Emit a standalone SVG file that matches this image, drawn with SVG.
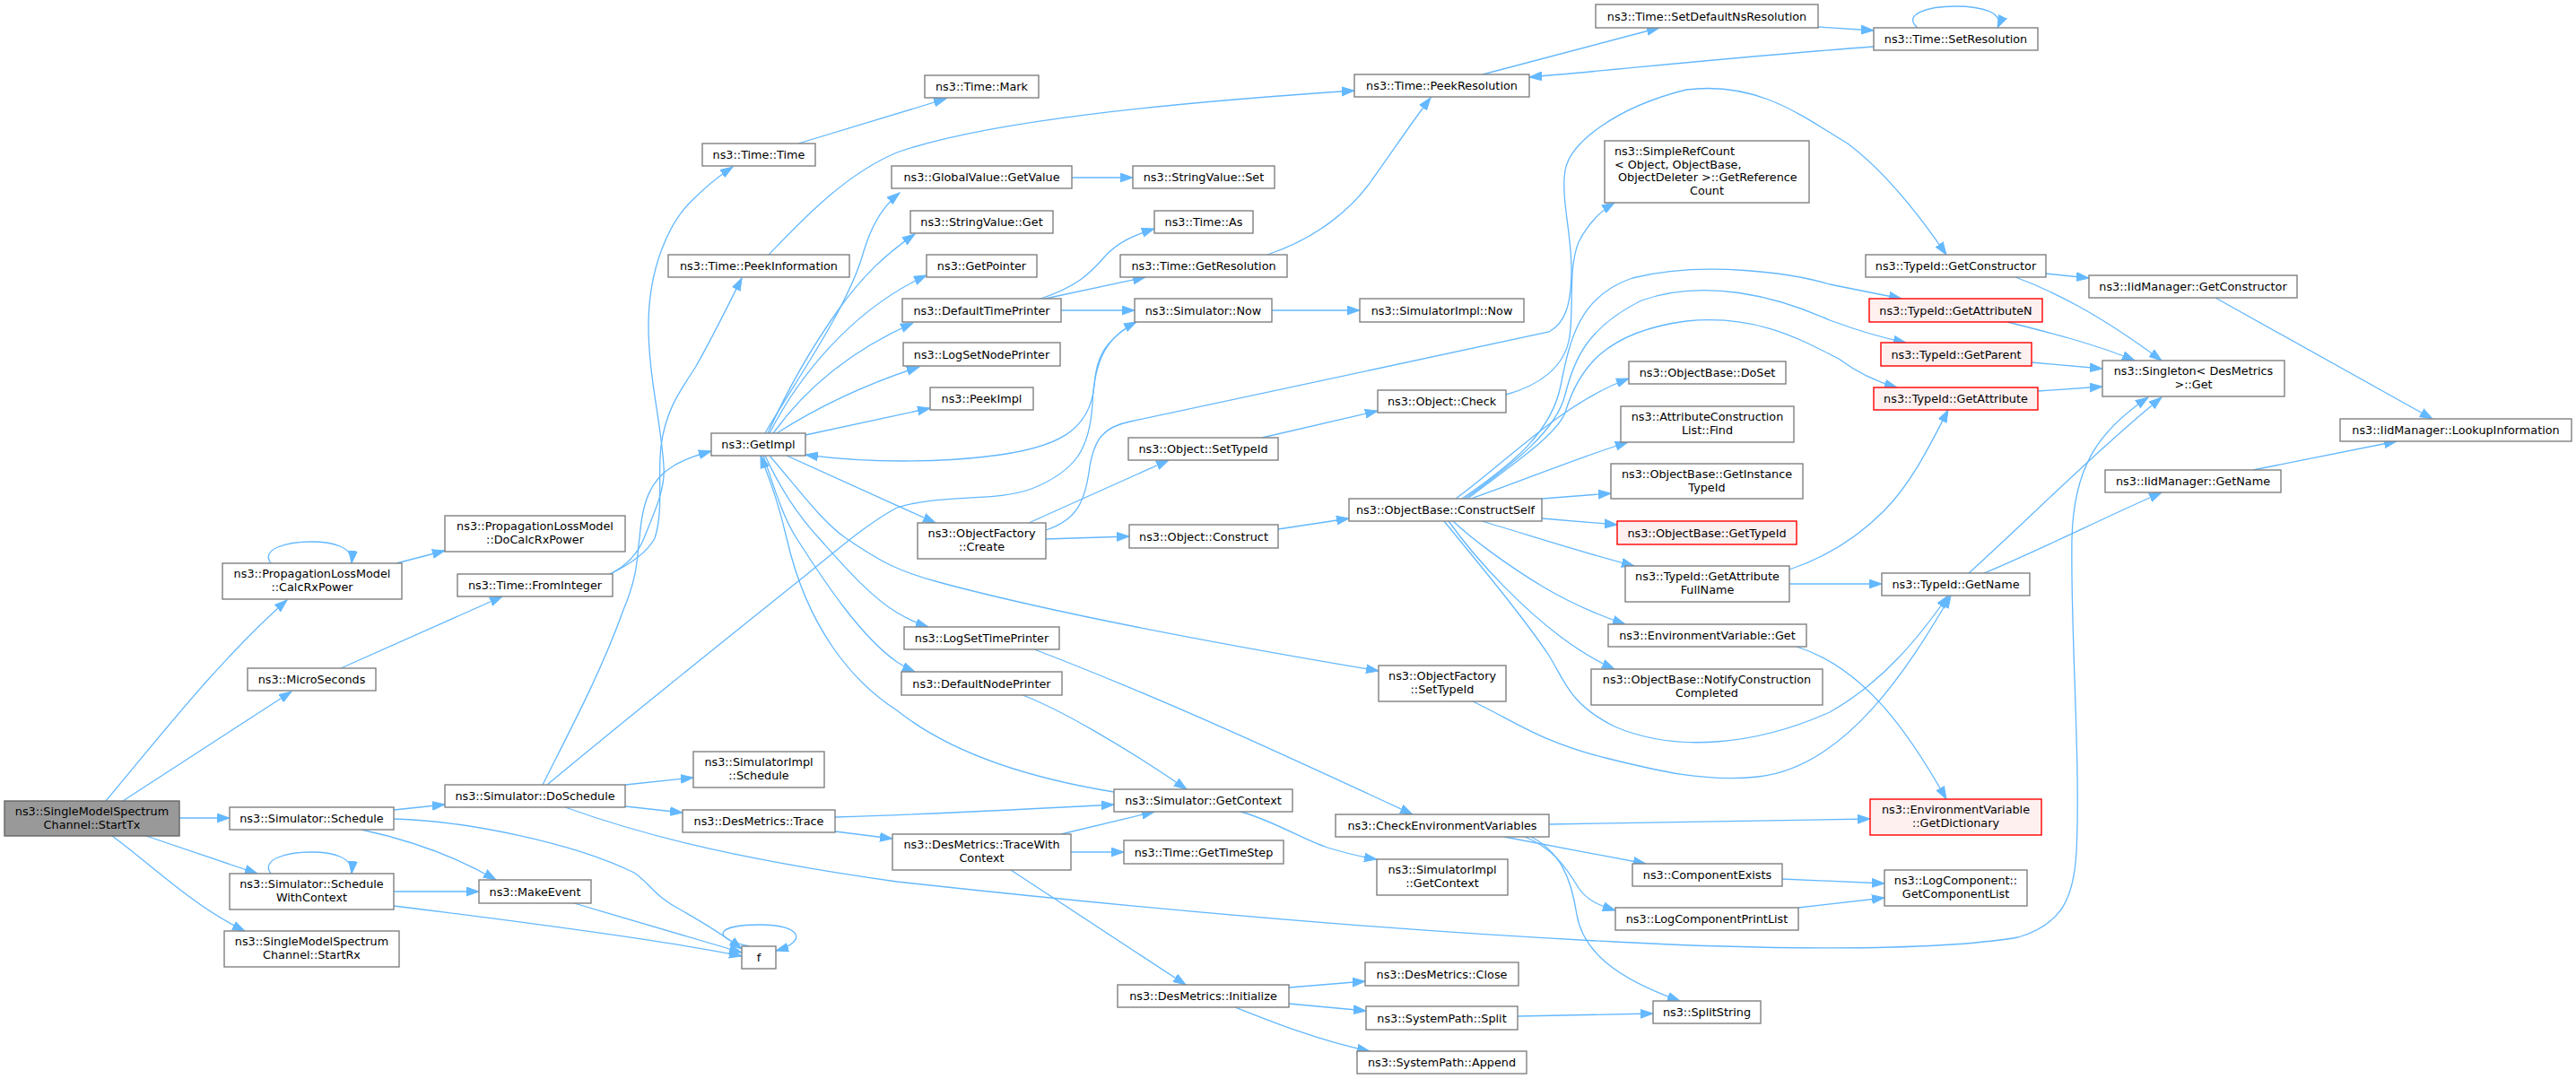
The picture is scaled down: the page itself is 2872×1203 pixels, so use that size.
<svg xmlns="http://www.w3.org/2000/svg" width="2872" height="1203" viewBox="0 0 2872 1203">
<style>
.n rect{fill:#ffffff;stroke:#808080;stroke-width:1.4}
.r rect{fill:#fff0f0;stroke:#ff0000;stroke-width:1.4}
.root rect{fill:#999999;stroke:#666666;stroke-width:1.4}
text{font-family:"DejaVu Sans","Liberation Sans",sans-serif;font-size:12.8px;fill:#000000;text-anchor:middle}
text.l{text-anchor:start}
#edges path{fill:none;stroke:#63b8ff;stroke-width:1.3;marker-end:url(#arr)}
</style>
<defs>
<marker id="arr" markerUnits="userSpaceOnUse" markerWidth="16" markerHeight="12" refX="14" refY="5.5" orient="auto">
<path d="M0,0.6 L14,5.5 L0,10.4 z" fill="#63b8ff" stroke="#63b8ff" stroke-width="1"/>
</marker>
</defs>
<rect x="0" y="0" width="2872" height="1203" fill="#ffffff"/>
<g id="edges">
<path d="M118,893 C175,825 245,735 320,669"/>
<path d="M137,893 L325,771"/>
<path d="M200,912 L256,912"/>
<path d="M163,932 L287,974"/>
<path d="M125,932 C170,965 215,1010 273,1038"/>
<path d="M302,628 C290,612 320,604 347,604 C372,604 394,610 392,628"/>
<path d="M442,628 L496,614"/>
<path d="M380,745 L560,665"/>
<path d="M439,903 L496,897"/>
<path d="M439,913 C520,915 640,940 707,973 C725,985 730,1000 760,1015 C790,1032 810,1045 827,1058"/>
<path d="M403,925 C440,933 500,950 553,981"/>
<path d="M302,974 C290,958 320,950 347,950 C372,950 394,956 392,974"/>
<path d="M439,994 L534,994"/>
<path d="M439,1010 C600,1030 750,1050 827,1066"/>
<path d="M640,1007 L827,1062"/>
<path d="M835,1055 C790,1045 800,1031 847,1031 C895,1031 900,1050 865,1060"/>
<path d="M680,640 C700,630 712,615 718,600 C730,570 742,545 740,520 C737,470 723,420 723,363 C723,300 745,250 770,225 C785,210 800,197 817,186"/>
<path d="M680,640 C705,628 722,615 730,600 C740,570 733,530 737,497 C742,460 755,440 775,410 C795,375 812,340 827,310"/>
<path d="M605,875 C635,815 670,750 695,680 C712,640 710,620 713,600 C716,560 725,535 750,520 C760,513 775,508 793,503"/>
<path d="M610,875 C700,800 800,720 900,640 C935,612 965,585 1000,566 C1050,550 1110,560 1150,545 C1200,525 1215,500 1218,450 C1220,400 1235,375 1267,359"/>
<path d="M1267,359 C1230,380 1222,400 1220,430 C1215,480 1180,500 1100,509 C1050,515 970,517 898,507"/>
<path d="M697,875 L773,867"/>
<path d="M697,899 L761,906"/>
<path d="M630,900 C700,925 800,955 1000,983 C1200,1005 1500,1035 1800,1050 C1950,1058 2150,1062 2250,1045 C2300,1030 2312,1000 2315,950 C2320,850 2308,700 2310,600 C2312,520 2340,480 2395,443"/>
<path d="M931,911 C1030,908 1150,902 1242,897"/>
<path d="M931,927 L995,935"/>
<path d="M1183,930 L1287,905"/>
<path d="M1194,950 L1253,950"/>
<path d="M1127,970 L1322,1098"/>
<path d="M1242,883 C1150,868 1060,840 1000,792 C950,760 900,700 877,600 C868,560 858,535 848,508"/>
<path d="M1383,905 C1420,915 1450,935 1480,945 C1500,951 1515,955 1535,958"/>
<path d="M853,483 C890,420 940,350 960,290 C968,262 978,235 1003,215"/>
<path d="M856,483 C880,430 910,380 935,345 C960,310 985,285 1020,261"/>
<path d="M858,483 C890,420 950,345 1033,307"/>
<path d="M862,483 C900,430 950,390 1018,360"/>
<path d="M866,483 C910,455 960,430 1025,409"/>
<path d="M898,485 L1037,455"/>
<path d="M877,508 L1043,583"/>
<path d="M858,508 C890,545 915,580 943,600 C980,625 1000,637 1050,650 C1200,690 1400,725 1537,748"/>
<path d="M853,508 C870,545 890,575 913,600 C940,630 970,665 1000,683 C1012,690 1022,695 1035,699"/>
<path d="M851,508 C862,540 872,575 888,600 C920,650 960,710 1000,738 C1008,743 1013,746 1020,749"/>
<path d="M890,160 L1055,110"/>
<path d="M857,284 C890,250 940,195 1000,170 C1100,135 1300,115 1510,101"/>
<path d="M1195,198 L1263,198"/>
<path d="M1160,333 C1200,320 1215,305 1230,288 C1245,270 1265,262 1287,255"/>
<path d="M1165,333 L1277,309"/>
<path d="M1183,346 L1265,346"/>
<path d="M1418,346 L1516,346"/>
<path d="M1413,284 C1470,265 1510,230 1530,200 C1555,165 1575,135 1595,109"/>
<path d="M1653,83 L1850,31"/>
<path d="M2027,30 L2089,34"/>
<path d="M2089,52 C1950,62 1800,78 1705,86"/>
<path d="M2138,31 C2120,16 2150,7 2180,7 C2210,7 2235,14 2227,31"/>
<path d="M1147,583 L1303,513"/>
<path d="M1166,601 L1259,598"/>
<path d="M1166,591 C1200,580 1210,560 1215,520 C1220,490 1230,476 1260,470 L1727,370 C1745,360 1752,340 1752,300 C1752,260 1740,220 1745,190 C1750,160 1800,120 1880,100 C1960,90 2010,130 2060,160 C2100,190 2140,240 2170,284"/>
<path d="M1407,488 L1536,458"/>
<path d="M1425,590 L1504,578"/>
<path d="M1679,440 C1715,430 1745,410 1750,375 C1755,340 1748,300 1760,270 C1770,250 1785,235 1800,226"/>
<path d="M1623,556 C1680,515 1740,450 1816,422"/>
<path d="M1640,556 C1700,535 1760,510 1815,493"/>
<path d="M1719,556 L1796,550"/>
<path d="M1719,578 L1803,585"/>
<path d="M1630,556 C1690,515 1730,480 1740,430 C1750,380 1760,330 1820,310 C1900,290 2000,305 2040,317 C2070,323 2095,328 2120,333"/>
<path d="M1633,556 C1690,515 1735,480 1745,440 C1755,400 1770,365 1830,335 C1900,310 1980,330 2040,357 C2075,370 2100,377 2125,382"/>
<path d="M1636,556 C1690,515 1735,485 1745,460 C1760,410 1790,370 1880,358 C1960,350 2010,380 2050,400 C2070,415 2090,425 2115,432"/>
<path d="M1652,581 C1700,595 1760,615 1822,631"/>
<path d="M1620,581 C1640,600 1680,630 1720,654 C1750,672 1780,685 1812,696"/>
<path d="M1615,581 C1650,630 1700,680 1740,710 C1760,725 1780,737 1800,746"/>
<path d="M1610,581 C1650,630 1700,690 1727,731 C1745,760 1750,785 1800,810 C1870,840 1960,830 2040,794 C2100,760 2140,710 2172,664"/>
<path d="M1642,782 C1690,805 1720,828 1790,845 C1850,860 1900,872 1960,866 C2060,855 2130,740 2175,664"/>
<path d="M1995,635 C2040,620 2075,595 2100,570 C2130,540 2150,500 2172,457"/>
<path d="M1995,651 L2098,651"/>
<path d="M2003,721 C2080,745 2130,820 2170,891"/>
<path d="M1727,919 L2085,913"/>
<path d="M1677,933 L1835,963"/>
<path d="M1700,933 C1730,945 1745,965 1760,990 C1770,1005 1785,1010 1801,1015"/>
<path d="M1707,933 C1740,950 1752,980 1758,1020 C1765,1060 1800,1090 1873,1116"/>
<path d="M1987,980 L2101,985"/>
<path d="M2005,1012 L2101,1001"/>
<path d="M1437,1101 L1522,1094"/>
<path d="M1437,1119 L1523,1127"/>
<path d="M1377,1123 C1420,1140 1470,1160 1527,1172"/>
<path d="M1692,1133 L1843,1130"/>
<path d="M2281,305 L2329,310"/>
<path d="M2247,309 C2290,325 2340,350 2410,402"/>
<path d="M2238,359 C2290,372 2340,385 2380,402"/>
<path d="M2265,404 L2344,411"/>
<path d="M2272,436 L2344,431"/>
<path d="M2195,639 C2260,580 2340,500 2410,443"/>
<path d="M2212,639 C2270,615 2340,580 2410,549"/>
<path d="M2470,332 L2712,467"/>
<path d="M2512,524 L2672,492"/>
<path d="M1140,775 C1180,790 1250,830 1323,880"/>
<path d="M1153,724 C1300,780 1450,850 1575,908"/>
</g>
<g id="n_starttx" class="root"><rect x="5" y="893" width="195" height="39"/><text x="102.5" y="909">ns3::SingleModelSpectrum</text><text x="102.5" y="924">Channel::StartTx</text></g>
<g id="n_calcrx" class="n"><rect x="248" y="628" width="200" height="40"/><text x="348" y="644">ns3::PropagationLossModel</text><text x="348" y="659">::CalcRxPower</text></g>
<g id="n_micro" class="n"><rect x="276" y="745" width="143" height="25"/><text x="347.5" y="762">ns3::MicroSeconds</text></g>
<g id="n_sched" class="n"><rect x="256" y="900" width="183" height="25"/><text x="347.5" y="917">ns3::Simulator::Schedule</text></g>
<g id="n_swc" class="n"><rect x="256" y="974" width="183" height="40"/><text x="347.5" y="990">ns3::Simulator::Schedule</text><text x="347.5" y="1005">WithContext</text></g>
<g id="n_startrx" class="n"><rect x="250" y="1038" width="195" height="40"/><text x="347.5" y="1054">ns3::SingleModelSpectrum</text><text x="347.5" y="1069">Channel::StartRx</text></g>
<g id="n_docalc" class="n"><rect x="496" y="575" width="201" height="40"/><text x="596.5" y="591">ns3::PropagationLossModel</text><text x="596.5" y="606">::DoCalcRxPower</text></g>
<g id="n_fromint" class="n"><rect x="510" y="640" width="173" height="25"/><text x="596.5" y="657">ns3::Time::FromInteger</text></g>
<g id="n_dosched" class="n"><rect x="496" y="875" width="201" height="25"/><text x="596.5" y="892">ns3::Simulator::DoSchedule</text></g>
<g id="n_makeevent" class="n"><rect x="534" y="981" width="125" height="26"/><text x="596.5" y="998.5">ns3::MakeEvent</text></g>
<g id="n_f" class="n"><rect x="827" y="1055" width="38" height="25"/><text x="846" y="1072">f</text></g>
<g id="n_timetime" class="n"><rect x="783" y="160" width="126" height="25"/><text x="846" y="177">ns3::Time::Time</text></g>
<g id="n_peekinfo" class="n"><rect x="745" y="284" width="202" height="25"/><text x="846" y="301">ns3::Time::PeekInformation</text></g>
<g id="n_getimpl" class="n"><rect x="793" y="483" width="105" height="25"/><text x="845.5" y="500">ns3::GetImpl</text></g>
<g id="n_simimplsched" class="n"><rect x="773" y="838" width="146" height="40"/><text x="846" y="854">ns3::SimulatorImpl</text><text x="846" y="869">::Schedule</text></g>
<g id="n_trace" class="n"><rect x="761" y="903" width="170" height="25"/><text x="846" y="920">ns3::DesMetrics::Trace</text></g>
<g id="n_mark" class="n"><rect x="1031" y="84" width="127" height="25"/><text x="1094.5" y="101">ns3::Time::Mark</text></g>
<g id="n_getvalue" class="n"><rect x="994" y="185" width="201" height="25"/><text x="1094.5" y="202">ns3::GlobalValue::GetValue</text></g>
<g id="n_svget" class="n"><rect x="1015" y="235" width="159" height="25"/><text x="1094.5" y="252">ns3::StringValue::Get</text></g>
<g id="n_getpointer" class="n"><rect x="1033" y="284" width="123" height="25"/><text x="1094.5" y="301">ns3::GetPointer</text></g>
<g id="n_dtp" class="n"><rect x="1006" y="333" width="177" height="26"/><text x="1094.5" y="350.5">ns3::DefaultTimePrinter</text></g>
<g id="n_lsnp" class="n"><rect x="1007" y="382" width="175" height="26"/><text x="1094.5" y="399.5">ns3::LogSetNodePrinter</text></g>
<g id="n_peekimpl" class="n"><rect x="1037" y="432" width="115" height="25"/><text x="1094.5" y="449">ns3::PeekImpl</text></g>
<g id="n_ofcreate" class="n"><rect x="1023" y="583" width="143" height="40"/><text x="1094.5" y="599">ns3::ObjectFactory</text><text x="1094.5" y="614">::Create</text></g>
<g id="n_lstp" class="n"><rect x="1008" y="699" width="173" height="25"/><text x="1094.5" y="716">ns3::LogSetTimePrinter</text></g>
<g id="n_dnp" class="n"><rect x="1005" y="749" width="179" height="26"/><text x="1094.5" y="766.5">ns3::DefaultNodePrinter</text></g>
<g id="n_twc" class="n"><rect x="995" y="930" width="199" height="40"/><text x="1094.5" y="946">ns3::DesMetrics::TraceWith</text><text x="1094.5" y="961">Context</text></g>
<g id="n_init" class="n"><rect x="1246" y="1098" width="191" height="25"/><text x="1341.5" y="1115">ns3::DesMetrics::Initialize</text></g>
<g id="n_svset" class="n"><rect x="1263" y="185" width="158" height="25"/><text x="1342" y="202">ns3::StringValue::Set</text></g>
<g id="n_as" class="n"><rect x="1287" y="235" width="110" height="25"/><text x="1342" y="252">ns3::Time::As</text></g>
<g id="n_getres" class="n"><rect x="1249" y="284" width="186" height="25"/><text x="1342" y="301">ns3::Time::GetResolution</text></g>
<g id="n_now" class="n"><rect x="1265" y="333" width="153" height="26"/><text x="1341.5" y="350.5">ns3::Simulator::Now</text></g>
<g id="n_objsettid" class="n"><rect x="1258" y="488" width="167" height="25"/><text x="1341.5" y="505">ns3::Object::SetTypeId</text></g>
<g id="n_construct" class="n"><rect x="1259" y="585" width="166" height="26"/><text x="1342" y="602.5">ns3::Object::Construct</text></g>
<g id="n_getctx" class="n"><rect x="1242" y="880" width="199" height="25"/><text x="1341.5" y="897">ns3::Simulator::GetContext</text></g>
<g id="n_timestep" class="n"><rect x="1253" y="937" width="178" height="26"/><text x="1342" y="954.5">ns3::Time::GetTimeStep</text></g>
<g id="n_peekres" class="n"><rect x="1510" y="83" width="195" height="25"/><text x="1607.5" y="100">ns3::Time::PeekResolution</text></g>
<g id="n_simimplnow" class="n"><rect x="1516" y="333" width="183" height="26"/><text x="1607.5" y="350.5">ns3::SimulatorImpl::Now</text></g>
<g id="n_check" class="n"><rect x="1536" y="435" width="143" height="25"/><text x="1607.5" y="452">ns3::Object::Check</text></g>
<g id="n_constructself" class="n"><rect x="1504" y="556" width="215" height="25"/><text x="1611.5" y="573">ns3::ObjectBase::ConstructSelf</text></g>
<g id="n_ofsettid" class="n"><rect x="1537" y="742" width="142" height="40"/><text x="1608" y="758">ns3::ObjectFactory</text><text x="1608" y="773">::SetTypeId</text></g>
<g id="n_checkenv" class="n"><rect x="1489" y="908" width="238" height="25"/><text x="1608" y="925">ns3::CheckEnvironmentVariables</text></g>
<g id="n_simimplctx" class="n"><rect x="1535" y="958" width="146" height="40"/><text x="1608" y="974">ns3::SimulatorImpl</text><text x="1608" y="989">::GetContext</text></g>
<g id="n_close" class="n"><rect x="1522" y="1073" width="171" height="26"/><text x="1607.5" y="1090.5">ns3::DesMetrics::Close</text></g>
<g id="n_split" class="n"><rect x="1523" y="1122" width="169" height="26"/><text x="1607.5" y="1139.5">ns3::SystemPath::Split</text></g>
<g id="n_append" class="n"><rect x="1513" y="1172" width="189" height="25"/><text x="1607.5" y="1189">ns3::SystemPath::Append</text></g>
<g id="n_setdefns" class="n"><rect x="1779" y="5" width="248" height="26"/><text x="1903" y="22.5">ns3::Time::SetDefaultNsResolution</text></g>
<g id="n_simpleref" class="n"><rect x="1789" y="157" width="228" height="69"/><text class="l" x="1800" y="172.5">ns3::SimpleRefCount</text><text class="l" x="1800" y="187.5">&lt; Object, ObjectBase,</text><text class="l" x="1804" y="202">ObjectDeleter &gt;::GetReference</text><text x="1903" y="216.5">Count</text></g>
<g id="n_doset" class="n"><rect x="1816" y="403" width="175" height="25"/><text x="1903.5" y="420">ns3::ObjectBase::DoSet</text></g>
<g id="n_acfind" class="n"><rect x="1807" y="453" width="193" height="40"/><text x="1903.5" y="469">ns3::AttributeConstruction</text><text x="1903.5" y="484">List::Find</text></g>
<g id="n_getinsttid" class="n"><rect x="1796" y="517" width="214" height="39"/><text x="1903" y="533">ns3::ObjectBase::GetInstance</text><text x="1903" y="548">TypeId</text></g>
<g id="n_gettypeid" class="r"><rect x="1803" y="581" width="200" height="26"/><text x="1903" y="598.5">ns3::ObjectBase::GetTypeId</text></g>
<g id="n_getattrfull" class="n"><rect x="1812" y="631" width="183" height="40"/><text x="1903.5" y="647">ns3::TypeId::GetAttribute</text><text x="1903.5" y="662">FullName</text></g>
<g id="n_envget" class="n"><rect x="1793" y="696" width="221" height="25"/><text x="1903.5" y="713">ns3::EnvironmentVariable::Get</text></g>
<g id="n_notify" class="n"><rect x="1774" y="746" width="258" height="40"/><text x="1903" y="762">ns3::ObjectBase::NotifyConstruction</text><text x="1903" y="777">Completed</text></g>
<g id="n_compexists" class="n"><rect x="1820" y="963" width="167" height="25"/><text x="1903.5" y="980">ns3::ComponentExists</text></g>
<g id="n_lcpl" class="n"><rect x="1801" y="1012" width="204" height="25"/><text x="1903" y="1029">ns3::LogComponentPrintList</text></g>
<g id="n_splitstring" class="n"><rect x="1843" y="1116" width="120" height="25"/><text x="1903" y="1133">ns3::SplitString</text></g>
<g id="n_setres" class="n"><rect x="2089" y="31" width="183" height="25"/><text x="2180.5" y="48">ns3::Time::SetResolution</text></g>
<g id="n_getctor" class="n"><rect x="2080" y="284" width="201" height="25"/><text x="2180.5" y="301">ns3::TypeId::GetConstructor</text></g>
<g id="n_getattrn" class="r"><rect x="2084" y="333" width="193" height="26"/><text x="2180.5" y="350.5">ns3::TypeId::GetAttributeN</text></g>
<g id="n_getparent" class="r"><rect x="2097" y="382" width="168" height="26"/><text x="2181" y="399.5">ns3::TypeId::GetParent</text></g>
<g id="n_getattr" class="r"><rect x="2089" y="432" width="183" height="25"/><text x="2180.5" y="449">ns3::TypeId::GetAttribute</text></g>
<g id="n_getname" class="n"><rect x="2098" y="639" width="165" height="25"/><text x="2180.5" y="656">ns3::TypeId::GetName</text></g>
<g id="n_getdict" class="r"><rect x="2085" y="891" width="191" height="40"/><text x="2180.5" y="907">ns3::EnvironmentVariable</text><text x="2180.5" y="922">::GetDictionary</text></g>
<g id="n_getcomplist" class="n"><rect x="2101" y="970" width="159" height="40"/><text x="2180.5" y="986">ns3::LogComponent::</text><text x="2180.5" y="1001">GetComponentList</text></g>
<g id="n_iidgetctor" class="n"><rect x="2329" y="307" width="232" height="25"/><text x="2445" y="324">ns3::IidManager::GetConstructor</text></g>
<g id="n_singleton" class="n"><rect x="2344" y="402" width="203" height="40"/><text x="2445.5" y="418">ns3::Singleton&lt; DesMetrics</text><text x="2445.5" y="433">&gt;::Get</text></g>
<g id="n_iidgetname" class="n"><rect x="2347" y="524" width="196" height="25"/><text x="2445" y="541">ns3::IidManager::GetName</text></g>
<g id="n_lookup" class="n"><rect x="2609" y="467" width="258" height="25"/><text x="2738" y="484">ns3::IidManager::LookupInformation</text></g>
</svg>
